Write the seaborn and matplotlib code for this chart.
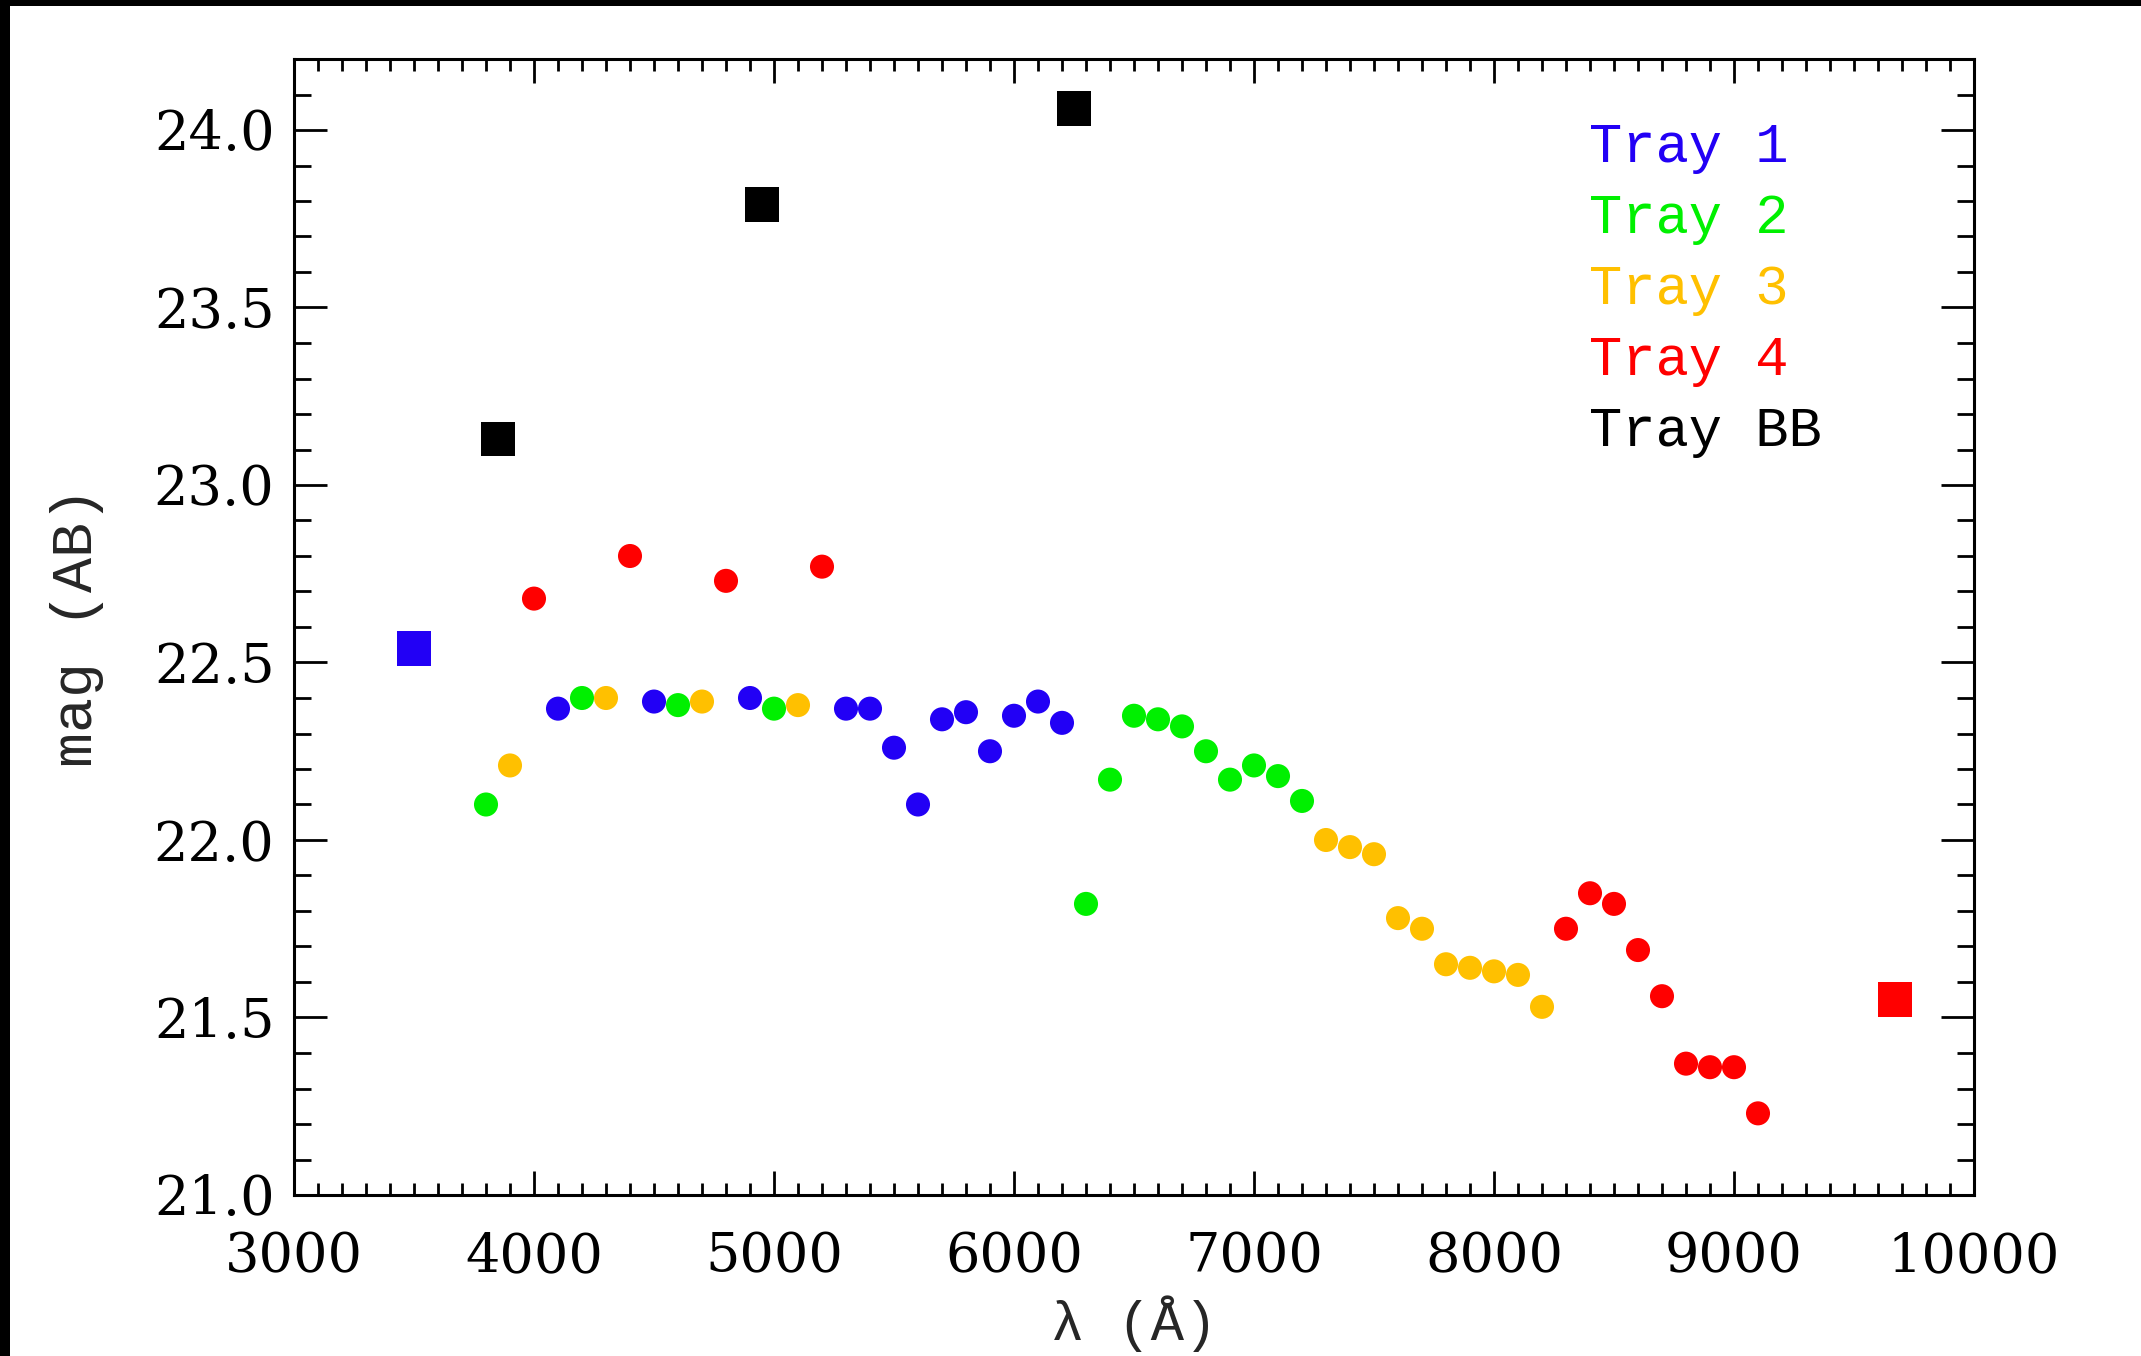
import numpy as np
import pandas as pd
import matplotlib
matplotlib.use('Agg')
import matplotlib.pyplot as plt
import seaborn as sns
from matplotlib.patches import Rectangle
from matplotlib.ticker import MultipleLocator

# Narrow-band points (wavelength in Angstrom, AB magnitude), one list per tray
tray1_wave = [4100, 4500, 4900, 5300, 5400, 5500, 5600, 5700, 5800, 5900, 6000, 6100, 6200]
tray1_mag = [22.37, 22.39, 22.40, 22.37, 22.37, 22.26, 22.10, 22.34, 22.36, 22.25, 22.35, 22.39, 22.33]

tray2_wave = [3800, 4200, 4600, 5000, 6300, 6400, 6500, 6600, 6700, 6800, 6900, 7000, 7100, 7200]
tray2_mag = [22.10, 22.40, 22.38, 22.37, 21.82, 22.17, 22.35, 22.34, 22.32, 22.25, 22.17, 22.21, 22.18, 22.11]

tray3_wave = [3900, 4300, 4700, 5100, 7300, 7400, 7500, 7600, 7700, 7800, 7900, 8000, 8100, 8200]
tray3_mag = [22.21, 22.40, 22.39, 22.38, 22.00, 21.98, 21.96, 21.78, 21.75, 21.65, 21.64, 21.63, 21.62, 21.53]

tray4_wave = [4000, 4400, 4800, 5200, 8300, 8400, 8500, 8600, 8700, 8800, 8900, 9000, 9100]
tray4_mag = [22.68, 22.80, 22.73, 22.77, 21.75, 21.85, 21.82, 21.69, 21.56, 21.37, 21.36, 21.36, 21.23]

# Broad-band points (squares)
bb_wave = [3500, 3850, 4950, 6250, 9670]
bb_mag = [22.54, 23.13, 23.79, 24.06, 21.55]
bb_tray = ['Tray 1', 'Tray BB', 'Tray BB', 'Tray BB', 'Tray 4']

tray_names = ['Tray 1', 'Tray 2', 'Tray 3', 'Tray 4', 'Tray BB']
tray_colors = ['#2200F5', '#00F000', '#FFC000', '#FF0000', '#000000']

nb = pd.DataFrame({
    'wave': tray1_wave + tray2_wave + tray3_wave + tray4_wave,
    'mag': tray1_mag + tray2_mag + tray3_mag + tray4_mag,
    'tray': (['Tray 1'] * len(tray1_wave) + ['Tray 2'] * len(tray2_wave)
             + ['Tray 3'] * len(tray3_wave) + ['Tray 4'] * len(tray4_wave)),
})
bb = pd.DataFrame({'wave': bb_wave, 'mag': bb_mag, 'tray': bb_tray})

sns.set_style('ticks')
plt.rcParams['font.family'] = ['DejaVu Serif']

palette = dict(zip(tray_names, tray_colors))
mono = ['Liberation Mono', 'DejaVu Sans Mono']

fig = plt.figure(figsize=(21.41, 13.56), dpi=100)
fig.patch.set_facecolor('white')
# black frame strip on the left and top edges of the screenshot
fig.patches.append(Rectangle((0, 0), 10 / 2141, 1, transform=fig.transFigure,
                             facecolor='black', edgecolor='none', zorder=-1))
fig.patches.append(Rectangle((0, 1 - 6 / 1356), 1, 6 / 1356, transform=fig.transFigure,
                             facecolor='black', edgecolor='none', zorder=-1))

ax = fig.add_axes([294 / 2141, 1 - 1195 / 1356, 1680 / 2141, 1136 / 1356])

sns.scatterplot(data=nb, x='wave', y='mag', hue='tray', palette=palette, marker='o',
                s=300, linewidth=0, legend=False, ax=ax)
sns.scatterplot(data=bb, x='wave', y='mag', hue='tray', palette=palette, marker='s',
                s=620, linewidth=0, legend=False, ax=ax)

ax.set_xlim(3000, 10000)
ax.set_ylim(21.0, 24.2)
ax.xaxis.set_major_locator(MultipleLocator(1000))
ax.xaxis.set_minor_locator(MultipleLocator(100))
ax.yaxis.set_major_locator(MultipleLocator(0.5))
ax.yaxis.set_minor_locator(MultipleLocator(0.1))
ax.yaxis.set_major_formatter(matplotlib.ticker.FormatStrFormatter('%.1f'))

for side in ax.spines.values():
    side.set_linewidth(2.2)
    side.set_color('black')
    side.set_visible(True)

ax.tick_params(axis='both', which='both', direction='in', top=True, right=True,
               width=2, colors='black')
ax.tick_params(axis='x', which='major', length=17, labelsize=39, pad=26)
ax.tick_params(axis='x', which='minor', length=8.5)
ax.tick_params(axis='y', which='major', length=24, labelsize=39, pad=14)
ax.tick_params(axis='y', which='minor', length=12)

ax.set_xlabel('λ (Å)', fontsize=40, family=mono)
ax.set_ylabel('mag (AB)', fontsize=42, family=mono)
ax.xaxis.set_label_coords(0.5, -0.088)
ax.yaxis.set_label_coords(-0.113, 0.5)

# coloured text legend
for i, (name, col) in enumerate(zip(tray_names, tray_colors)):
    ax.text(0.771, 0.922 - i * 0.0625, name, color=col, fontsize=40, family=mono,
            transform=ax.transAxes, va='center', ha='left')

fig.savefig('out.png', dpi=100, facecolor=fig.get_facecolor())
